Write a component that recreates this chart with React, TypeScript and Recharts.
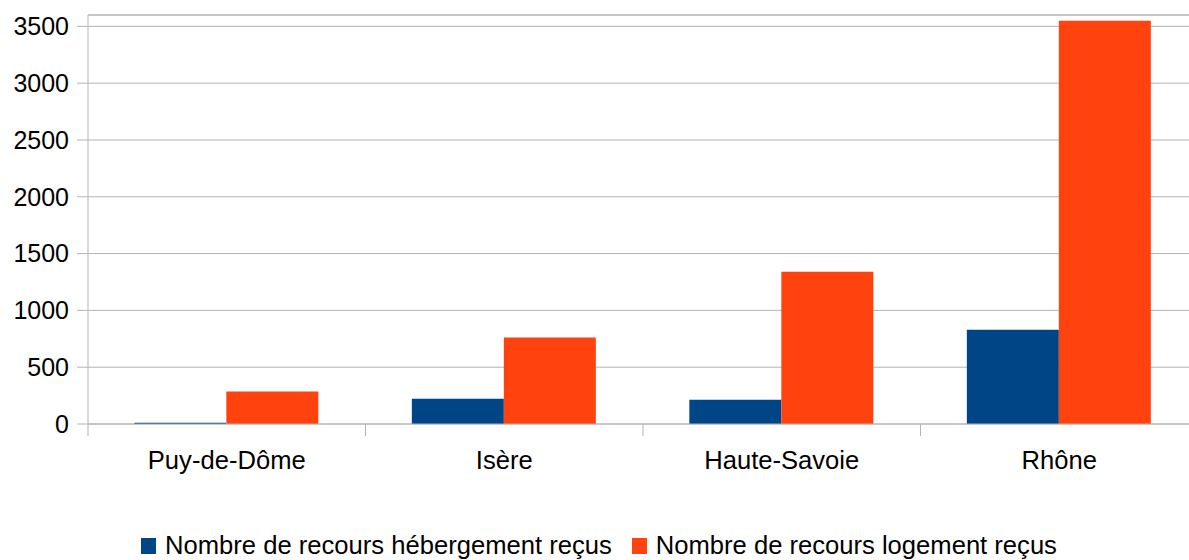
import React from 'react';
import { BarChart, Bar, XAxis, YAxis, CartesianGrid, Legend, ReferenceLine } from 'recharts';

const departements = ['Puy-de-Dôme', 'Isère', 'Haute-Savoie', 'Rhône'];
const recoursHebergement = [12, 223, 214, 830];
const recoursLogement = [285, 762, 1341, 3550];
const yTicks = [0, 500, 1000, 1500, 2000, 2500, 3000, 3500];

const FONT = '"Liberation Sans", Arial, sans-serif';
const GRID = '#b3b3b3';
const CHART_W = 1200;
const Y_AXIS_W = 88;
const MARGIN_R = 2;
const BAND = (CHART_W - Y_AXIS_W - MARGIN_R) / departements.length;

const data = departements.map((d, i) => ({
  departement: d,
  hebergement: recoursHebergement[i],
  logement: recoursLogement[i],
}));

const XTick = (props: any) => {
  const { x, y, payload } = props;
  const sep = x - BAND / 2;
  return (
    <g>
      <line x1={sep} x2={sep} y1={y} y2={y + 12} stroke={GRID} />
      <text x={x} y={y + 45} textAnchor="middle" fontSize={25.6} fontFamily={FONT} fill="#000">
        {payload.value}
      </text>
    </g>
  );
};

const LegendContent = (props: any) => (
  <div style={{ display: 'flex', justifyContent: 'center', fontFamily: FONT, fontSize: 25.6, color: '#000' }}>
    {(props.payload || []).map((p: any, i: number) => (
      <div key={p.value} style={{ display: 'flex', alignItems: 'center', marginLeft: i ? 20 : 0 }}>
        <span style={{ display: 'inline-block', width: 15, height: 16, background: p.color, marginRight: 9 }} />
        <span>{p.value}</span>
      </div>
    ))}
  </div>
);

const App = () => {
  return (
    <div style={{ position: 'absolute', left: 0, top: 0, width: 1189, height: 560, overflow: 'hidden', background: '#fff' }}>
      <BarChart
        width={CHART_W}
        height={560}
        data={data}
        margin={{ top: 15, right: MARGIN_R, left: 0, bottom: 0 }}
        barCategoryGap="16.7%"
        barGap={0}
      >
        <CartesianGrid vertical={false} stroke={GRID} />
        <ReferenceLine y={3600} stroke={GRID} />
        <XAxis
          dataKey="departement"
          height={107}
          tickLine={false}
          tickSize={0}
          tickMargin={0}
          axisLine={{ stroke: GRID }}
          tick={<XTick />}
          interval={0}
        />
        <YAxis
          width={Y_AXIS_W}
          domain={[0, 3600]}
          ticks={yTicks}
          tickSize={11}
          tickMargin={8}
          tickLine={{ stroke: GRID }}
          axisLine={{ stroke: GRID }}
          tick={{ fontSize: 25, fontFamily: FONT, fill: '#000' }}
        />
        <Legend verticalAlign="bottom" content={<LegendContent />} />
        <Bar dataKey="hebergement" name="Nombre de recours hébergement reçus" fill="#004586" isAnimationActive={false} />
        <Bar dataKey="logement" name="Nombre de recours logement reçus" fill="#ff420e" isAnimationActive={false} />
      </BarChart>
    </div>
  );
};

export default App;
